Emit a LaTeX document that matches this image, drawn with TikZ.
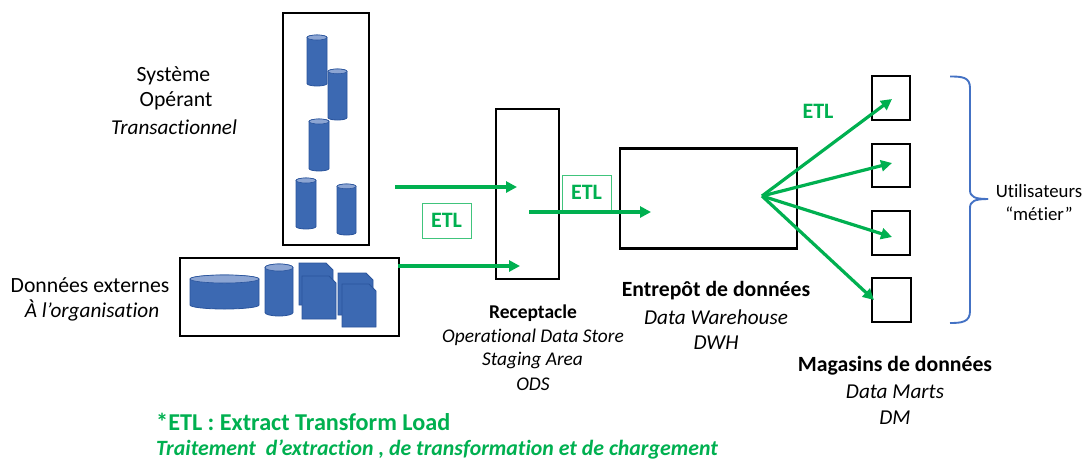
\documentclass[tikz,border=0pt]{standalone}
\usepackage{fontspec}
\setmainfont{Carlito}[Ligatures=NoCommon]
\usetikzlibrary{arrows.meta}
\definecolor{etlgreen}{HTML}{00B050}
\definecolor{dbblue}{HTML}{3C69B2}
\definecolor{dbedge}{HTML}{2A549C}
\definecolor{dbtop}{HTML}{8CA5D3}
\definecolor{bracecol}{HTML}{4472C4}
\tikzset{
  x=1pt,y=-1pt,
  blackbox/.style={draw=black,line width=2.3pt,fill=none,minimum width=#1,inner sep=0pt,outer sep=0pt},
  etlbox/.style={draw=etlgreen!75,line width=1pt,font=\fontsize{22}{22}\selectfont\bfseries,text=etlgreen,inner sep=0pt,minimum width=49pt,minimum height=35pt},
  flow/.style={draw=etlgreen,line width=3.2pt,-{Triangle[length=11pt,width=11pt]},shorten >=0pt},
  lbl/.style={font=\fontsize{21.7}{22}\selectfont,inner sep=0pt,text=black},
  lblb/.style={lbl,font=\fontsize{21.7}{22}\selectfont\bfseries},
  lbli/.style={lbl,font=\fontsize{21.2}{22}\selectfont\itshape},
  pics/db/.style n args={4}{code={
    \pgfmathsetmacro{\rx}{(#3-#1)/2}
    \pgfmathsetmacro{\ry}{min(4,\rx*0.25)}
    \pgfmathsetmacro{\cx}{(#1+#3)/2}
    \path[fill=dbblue,draw=dbedge,line width=.8pt] (#1,#2+\ry) -- (#1,#4-\ry) arc[start angle=180,end angle=360,x radius=\rx,y radius=-\ry] -- (#3,#2+\ry) arc[start angle=0,end angle=180,x radius=\rx,y radius=-\ry] -- cycle;
    \path[fill=dbtop,draw=dbedge,line width=.6pt] (\cx,#2+\ry) ellipse[x radius=\rx,y radius=\ry];
  }},
  pics/docu/.style n args={4}{code={
    \path[fill=dbblue,draw=dbedge,line width=.8pt] (#1,#2) -- (#3-7,#2) -- (#3,#2+7) -- (#3,#4) -- (#1,#4) -- cycle;
  }},
}
\begin{document}
\begin{tikzpicture}
\useasboundingbox (0,0) rectangle (1087,459);
% system box
\node[blackbox=86pt,minimum height=232pt] (sys) at (326,129) {};
\pic {db={307}{35}{327}{86}};
\pic {db={328}{69}{347}{120}};
\pic {db={309}{119}{329}{171}};
\pic {db={296}{178}{316}{229}};
\pic {db={337}{184}{356}{235}};
% external box
\node[blackbox=219pt,minimum height=78pt] (ext) at (289.5,297) {};
\pic {db={190}{275}{259}{309}};
\pic {db={265}{264}{293}{316}};
\pic {docu={299}{263}{333}{305}};
\pic {docu={302}{276}{336}{319}};
\pic {docu={338}{273}{373}{315}};
\pic {docu={342}{284}{376}{327}};
% receptacle and warehouse
\node[blackbox=63pt,minimum height=170pt] (ods) at (527.5,194) {};
\node[blackbox=177pt,minimum height=100pt] (dwh) at (708.5,198.5) {};
% marts
\node[blackbox=38pt,minimum height=44pt] (m1) at (891,98) {};
\node[blackbox=38pt,minimum height=43pt] (m2) at (891,165.5) {};
\node[blackbox=38pt,minimum height=44pt] (m3) at (891,233) {};
\node[blackbox=39pt,minimum height=44pt] (m4) at (891.5,300) {};
% ETL boxes
\node[etlbox] (etla) at (446.5,220.5) {ETL};
\node[etlbox] (etlb) at (586.5,192.5) {ETL};
% connector ends
\coordinate (a1) at (395,187); \coordinate (a2) at (517,187);
\coordinate (b1) at (398,266); \coordinate (b2) at (520,266);
\coordinate (c1) at (529,212); \coordinate (c2) at (651,212);
\coordinate (fan) at (762,196);
\coordinate (e1) at (892,99); \coordinate (e2) at (892,163);
\coordinate (e3) at (892,237); \coordinate (e4) at (874,300);
\draw[flow] (a1) -- (a2);
\draw[flow] (b1) -- (b2);
\draw[flow] (c1) -- (c2);
\draw[flow] (fan) -- (e1);
\draw[flow] (fan) -- (e2);
\draw[flow] (fan) -- (e3);
\draw[flow] (fan) -- (e4);
% brace
\coordinate (brtop) at (950,76.5); \coordinate (brbot) at (950,323); \coordinate (brtip) at (988,199);
\draw[bracecol,line width=1.9pt,line join=round] (brtop) .. controls (962,76.5) and (970,77) .. (970,88) -- (970,190) .. controls (970,197) and (975,199) .. (brtip);
\draw[bracecol,line width=1.9pt,line join=round] (brbot) .. controls (962,323) and (970,322) .. (970,311) -- (970,208) .. controls (970,201) and (975,199) .. (brtip);
% texts
\node[lbl] (t1) at (173.5,76) {Système};
\node[lbl] (t2) at (176,101) {Opérant};
\node[lbli] (t3) at (174,127) {Transactionnel};
\node[lbl] (t4) at (90,285) {Données externes};
\node[lbli] (t5) at (92,310) {À l’organisation};
\node[lbl,font=\fontsize{19.5}{20}\selectfont\bfseries] (t6) at (533,313) {Receptacle};
\node[lbli,font=\fontsize{19.4}{20}\selectfont\itshape] (t7) at (533,337) {Operational Data Store};
\node[lbli,font=\fontsize{19.4}{20}\selectfont\itshape] (t8) at (532.5,360) {Staging Area};
\node[lbli,font=\fontsize{19.4}{20}\selectfont\itshape] (t9) at (533,384) {ODS};
\node[lblb] (t10) at (716,291) {Entrepôt de données};
\node[lbli] (t11) at (716,317) {Data Warehouse};
\node[lbli] (t12) at (716,343) {DWH};
\node[lblb] (t13) at (895,366) {Magasins de données};
\node[lbli] (t14) at (895,392) {Data Marts};
\node[lbli] (t15) at (895,418) {DM};
\node[lbl,font=\fontsize{18.8}{19}\selectfont] (t16) at (1039,191) {Utilisateurs};
\node[lbl,font=\fontsize{18.8}{19}\selectfont] (t17) at (1039,214) {“métier”};
\node[lbl,font=\fontsize{22}{22}\selectfont\bfseries,text=etlgreen] (t18) at (818,111) {ETL};
\node[lbl,anchor=west,font=\fontsize{24.2}{24}\selectfont\bfseries,text=etlgreen] (t19) at (156,422) {*ETL : Extract Transform Load};
\node[lbl,anchor=west,font=\fontsize{21.8}{22}\selectfont\bfseries\itshape,text=etlgreen] (t20) at (156,449) {Traitement\ \ d’extraction , de transformation et de chargement};
\end{tikzpicture}
\end{document}
